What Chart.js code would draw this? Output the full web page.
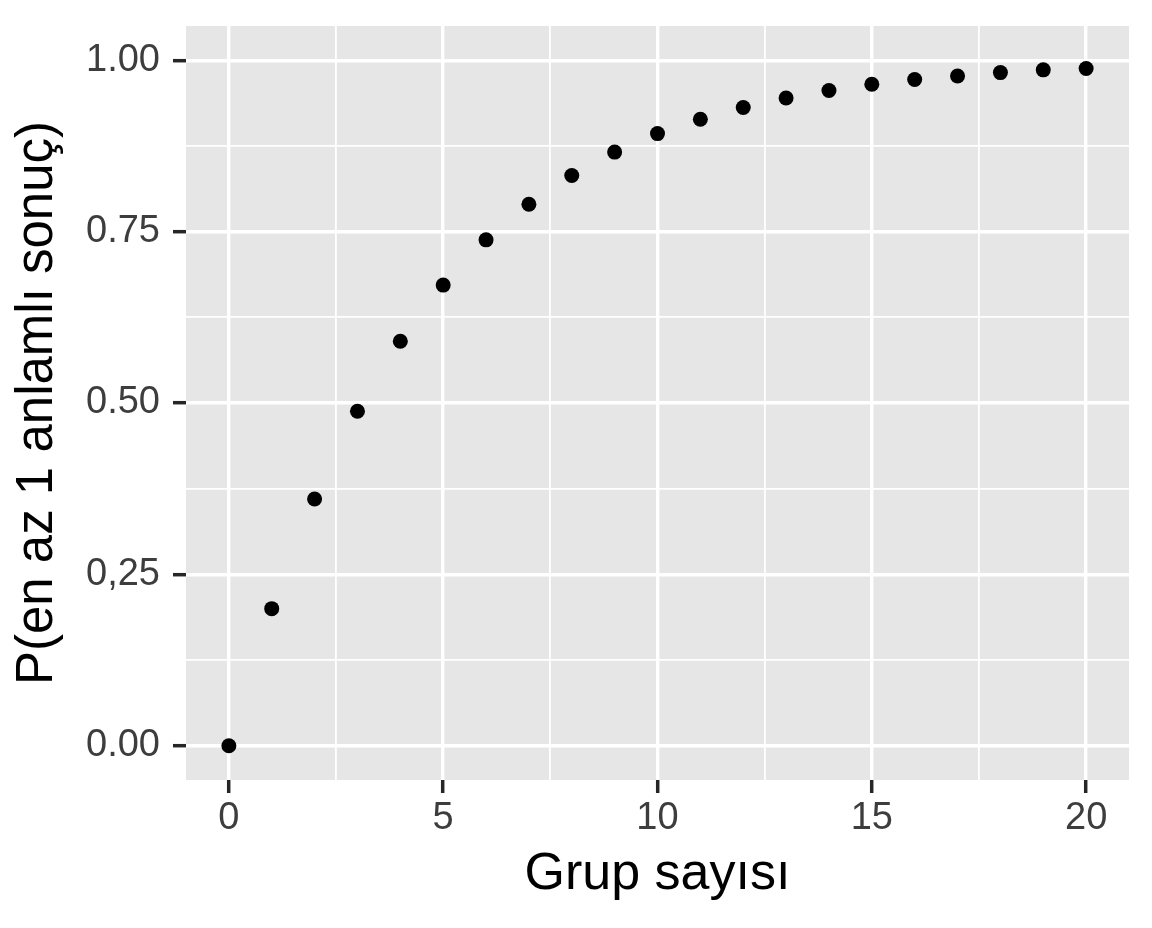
<!DOCTYPE html>
<html>
<head>
<meta charset="utf-8">
<script src="https://cdn.jsdelivr.net/npm/chart.js@4.4.0/dist/chart.umd.min.js"></script>
<style>
  body{margin:0;background:#fff;}
  #wrap{width:1152px;height:928px;}
</style>
</head>
<body>
<div id="wrap"><canvas id="chart" width="1152" height="928"></canvas></div>
<script>
// data
const groups = [0,1,2,3,4,5,6,7,8,9,10,11,12,13,14,15,16,17,18,19,20];
const probs  = [0,0.20,0.36,0.488,0.59,0.672,0.738,0.79,0.832,0.866,0.893,0.914,0.931,0.945,0.956,0.965,0.972,0.977,0.982,0.986,0.988];
const xTicks = [0,2.5,5,7.5,10,12.5,15,17.5,20];
const xTickLabels = ['0','','5','','10','','15','','20'];
const yTicks = [0,0.125,0.25,0.375,0.5,0.625,0.75,0.875,1];
const yTickLabels = ['0.00','','0,25','','0.50','','0.75','','1.00'];

const FONT = "'Liberation Sans', Arial, sans-serif";

const panelBg = {
  id:'panelBg',
  beforeDraw(chart){
    const {ctx, chartArea:a} = chart;
    ctx.save();
    ctx.fillStyle = '#E6E6E6';
    ctx.fillRect(a.left, a.top, a.right-a.left, a.bottom-a.top);
    ctx.restore();
  }
};

const isMajor = (ticks, c) => ticks.indexOf(c.tick.value) % 2 === 0;

new Chart(document.getElementById('chart').getContext('2d'), {
  type:'scatter',
  data:{
    datasets:[{
      data: groups.map((g,i)=>({x:g, y:probs[i]})),
      backgroundColor:'#000',
      borderWidth:0,
      pointRadius:7.5,
      pointHoverRadius:7.5
    }]
  },
  options:{
    responsive:false,
    animation:false,
    layout:{padding:{top:26,right:23,left:0,bottom:0}},
    plugins:{legend:{display:false}, tooltip:{enabled:false}},
    scales:{
      x:{
        type:'linear', min:-1, max:21,
        afterBuildTicks: s => { s.ticks = xTicks.map(v=>({value:v})); },
        afterFit: s => { s.height = 148; s.paddingLeft = 0; s.paddingRight = 0; },
        border:{display:false},
        grid:{
          color:'#FFFFFF',
          lineWidth: c => isMajor(xTicks,c) ? 3.4 : 1.8,
          tickColor: c => isMajor(xTicks,c) ? '#262626' : 'rgba(0,0,0,0)',
          tickWidth: c => isMajor(xTicks,c) ? 3.5 : 0,
          tickLength:13
        },
        ticks:{
          autoSkip:false, maxRotation:0, padding:3,
          color:'#3D3D3D', font:{family:FONT, size:38},
          callback:(v,i)=>xTickLabels[i]
        },
        title:{display:true, text:'Grup sayısı', color:'#000',
          font:{family:FONT, size:52}, padding:{top:0,bottom:22}}
      },
      y:{
        type:'linear', min:-0.05, max:1.05,
        afterBuildTicks: s => { s.ticks = yTicks.map(v=>({value:v})); },
        afterFit: s => { s.width = 186; s.paddingTop = 0; s.paddingBottom = 0; },
        border:{display:false},
        grid:{
          color:'#FFFFFF',
          lineWidth: c => isMajor(yTicks,c) ? 3.4 : 1.8,
          tickColor: c => isMajor(yTicks,c) ? '#262626' : 'rgba(0,0,0,0)',
          tickWidth: c => isMajor(yTicks,c) ? 3.5 : 0,
          tickLength:13
        },
        ticks:{
          autoSkip:false, padding:13,
          color:'#3D3D3D', font:{family:FONT, size:38},
          callback:(v,i)=>yTickLabels[i]
        },
        title:{display:true, text:'P(en az 1 anlamlı sonuç)', color:'#000',
          font:{family:FONT, size:51}, padding:{top:7,bottom:0}}
      }
    }
  },
  plugins:[panelBg]
});
</script>
</body>
</html>
